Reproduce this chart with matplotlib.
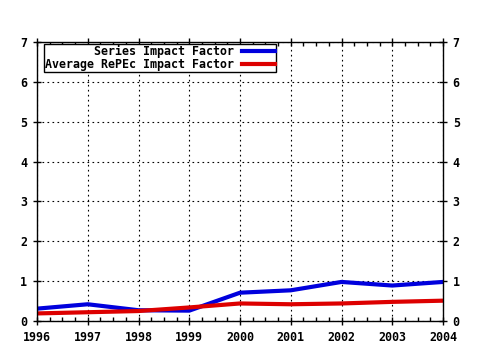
import matplotlib
matplotlib.use("Agg")
import matplotlib.pyplot as plt
from matplotlib.ticker import MultipleLocator

years = [1996, 1997, 1998, 1999, 2000, 2001, 2002, 2003, 2004]
series_if = [0.31, 0.42, 0.27, 0.26, 0.71, 0.77, 0.98, 0.89, 0.98]
repec_if = [0.19, 0.22, 0.25, 0.34, 0.44, 0.42, 0.44, 0.48, 0.51]

plt.rcParams["font.family"] = "DejaVu Sans Mono"
plt.rcParams["font.weight"] = "bold"
plt.rcParams["font.size"] = 8.4

fig = plt.figure(figsize=(4.8, 3.5), dpi=100)
ax = fig.add_axes([37 / 480, 29 / 350, 406 / 480, 279 / 350])

ax.plot(years, series_if, color="#0000dd", linewidth=3, label="Series Impact Factor")
ax.plot(years, repec_if, color="#dd0000", linewidth=3, label="Average RePEc Impact Factor")

ax.set_xlim(1996, 2004)
ax.set_ylim(0, 7)
ax.xaxis.set_major_locator(MultipleLocator(1))
ax.xaxis.set_minor_locator(MultipleLocator(0.25))
ax.yaxis.set_major_locator(MultipleLocator(1))
ax.tick_params(which="major", direction="inout", length=6, width=1,
               top=True, right=True, labelright=True, pad=4)
ax.tick_params(axis="x", which="minor", direction="in", length=3, width=1, top=True)
ax.grid(True, which="major", color="black", linestyle=(0, (1.5, 3)), linewidth=0.8)
for s in ax.spines.values():
    s.set_linewidth(1)

leg = ax.legend(loc="upper left", bbox_to_anchor=(7 / 406, 1 - 2 / 279), markerfirst=False,
                frameon=True, fancybox=False, edgecolor="black", framealpha=1,
                borderpad=0.1, handlelength=2.8, handletextpad=0.7, labelspacing=0.0,
                borderaxespad=0)
leg.get_frame().set_linewidth(1)
for t in leg.get_texts():
    t.set_horizontalalignment("right")
leg._legend_box.align = "right"

fig.savefig("out.png")
